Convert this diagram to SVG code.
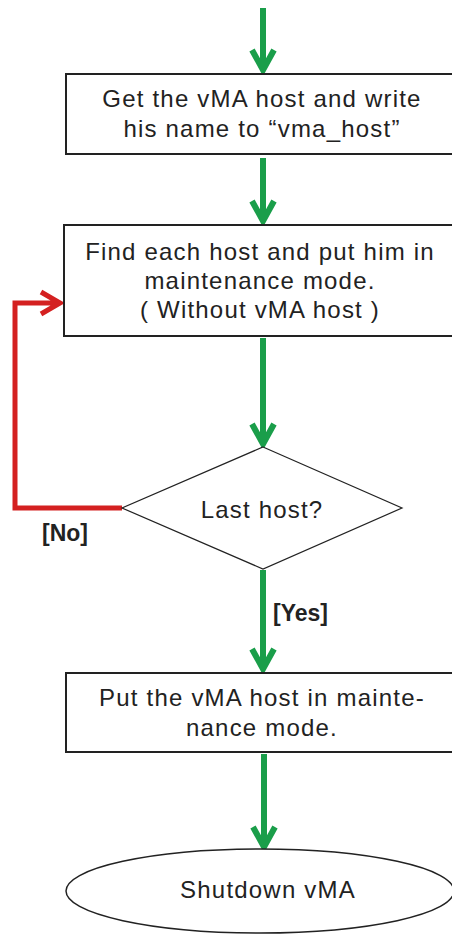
<svg xmlns="http://www.w3.org/2000/svg" width="452" height="934" viewBox="0 0 452 934">
<style>
.box{fill:#fff;stroke:#222;stroke-width:2}
.t{font-family:"Liberation Sans",Arial,sans-serif;font-size:24px;letter-spacing:1.2px;fill:#222;text-anchor:middle}
.lbl{font-family:"Liberation Sans",Arial,sans-serif;font-size:23px;font-weight:bold;fill:#222}
.g{fill:none;stroke:#1a9e4a;stroke-width:6}
.r{fill:none;stroke:#d42020;stroke-width:5}
</style>
<rect width="452" height="934" fill="#fff"/>
<g id="connectors">
<path class="g" d="M263 8V70M252 50L263 70L274 50"/>
<path class="g" d="M263 158V221M252 201L263 221L274 201"/>
<path class="g" d="M263 338V444M252 424L263 444L274 424"/>
<path class="g" d="M263 570V669M252 649L263 669L274 649"/>
<path class="g" d="M264 754V847M253 827L264 847L275 827"/>
<path class="r" d="M122 508H15V303H60M41 292L60 303L41 314"/>
<text class="lbl" x="42" y="541">[No]</text>
<text class="lbl" x="273" y="621">[Yes]</text>
</g>
<g id="n1">
<rect class="box" x="66" y="74" width="390" height="80"/>
<text class="t" x="262" y="107">Get the vMA host and write</text>
<text class="t" x="262" y="137">his name to “vma_host”</text>
</g>
<g id="n2">
<rect class="box" x="64" y="225" width="392" height="111"/>
<text class="t" x="260" y="260">Find each host and put him in</text>
<text class="t" x="260" y="289">maintenance  mode.</text>
<text class="t" x="260" y="318">( Without vMA host )</text>
</g>
<g id="n3">
<path class="box" d="M263 447L402 508L263 569L122 508Z" style="stroke-width:1.2"/>
<text class="t" x="262" y="518">Last host?</text>
</g>
<g id="n4">
<rect class="box" x="66" y="673" width="390" height="79"/>
<text class="t" x="262" y="706">Put the vMA host in mainte-</text>
<text class="t" x="262" y="736">nance  mode.</text>
</g>
<g id="n5">
<ellipse class="box" cx="260" cy="891" rx="194" ry="42" style="stroke-width:1.5"/>
<text class="t" x="268" y="898">Shutdown vMA</text>
</g>
</svg>
